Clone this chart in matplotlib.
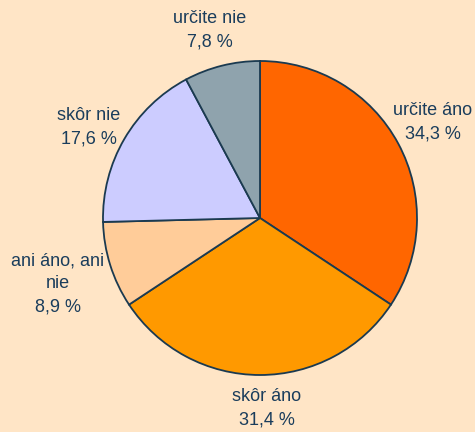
import matplotlib.pyplot as plt

categories = ['určite áno', 'skôr áno', 'ani áno, ani\nnie', 'skôr nie', 'určite nie']
values = [34.3, 31.4, 8.9, 17.6, 7.8]
colors = ['#FF6600', '#FF9900', '#FFCC99', '#CCCCFF', '#8FA3AD']

bg = '#FFE5C6'
txt_color = '#1A3D5C'

# label block centres in pixels (x, y from top)
label_px = [(433, 122), (267, 408), (58, 284), (89, 127), (210, 30)]

W, H = 475, 432
cx, cy, r = 260, 218, 157

fig = plt.figure(figsize=(W / 100, H / 100), dpi=100, facecolor=bg)
ax = fig.add_axes([0, 0, 1, 1])
ax.set_facecolor(bg)

ax.pie(values, colors=colors, startangle=90, counterclock=False,
       wedgeprops=dict(edgecolor='#1B3A50', linewidth=1.3))

ax.set_xlim(-cx / r, (W - cx) / r)
ax.set_ylim(-(H - cy) / r, cy / r)
ax.set_aspect('equal')
ax.axis('off')

for cat, v, (px, py) in zip(categories, values, label_px):
    s = cat + '\n' + ('%.1f %%' % v).replace('.', ',')
    ax.text((px - cx) / r, (cy - py) / r, s, ha='center', va='center',
            fontsize=13, family='Liberation Sans', color=txt_color,
            linespacing=1.5)

fig.savefig('out.png', dpi=100, facecolor=bg)
